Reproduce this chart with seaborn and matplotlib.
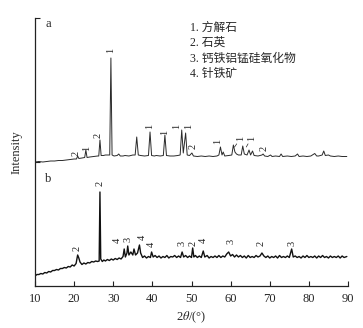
import matplotlib
matplotlib.use("Agg")
import matplotlib.pyplot as plt
import seaborn as sns
import pandas as pd

# ---- data ----
a_two_theta = [10.0, 11, 12, 13, 14, 15, 16, 17, 18, 19, 20, 20.6, 20.9, 21.2, 22, 22.7, 23.0, 23.3, 24, 25, 26,
               26.3, 26.6, 26.9, 27.5, 28, 28.5, 29.1, 29.4, 29.7, 30.2, 31, 31.4, 31.8, 32.5, 33, 34, 35, 35.6,
               36.0, 36.4, 37, 38, 39.0, 39.4, 39.8, 40.5, 41, 42, 42.8, 43.2, 43.6, 44.5, 45.5, 46.5, 47.1, 47.5,
               47.9, 48.5, 48.9, 49.5, 50.1, 50.5, 51.5, 52.5, 53.5, 54.5, 55.5, 56.5, 57.0, 57.4, 57.8, 58.1,
               58.5, 59.5, 60.3, 60.7, 61.1, 61.5, 62.0, 62.7, 63.1, 63.5, 64.2, 64.7, 65.1, 65.6, 66, 67, 68.0,
               68.3, 68.7, 69.5, 70.2, 70.6, 71.5, 72.5, 72.9, 73.3, 74.5, 75.5, 76.5, 77.1, 77.5, 78.5, 79.5,
               80.5, 81.5, 82, 82.5, 83.4, 83.8, 84.2, 85, 85.5, 86.5, 87.5, 88.5, 89.7]
a_intensity = [124, 124.5, 124, 124.5, 125, 125, 125.5, 125.5, 126, 126.5, 127, 127, 130, 127.5, 128, 128.5, 136,
               128.5, 129, 129.5, 130, 130, 146, 130.5, 130.5, 131, 131, 131, 228, 131, 130, 130.5, 132, 130, 130,
               130.5, 130, 131, 131, 149, 131, 130.5, 130, 130.5, 154, 130.5, 130, 130.5, 130, 130.5, 151, 130.5,
               130, 130, 130.5, 131, 156, 133, 153, 131, 130.5, 133, 130, 129.5, 130, 129.5, 130, 129.5, 130, 131,
               139, 131, 134, 130, 130.5, 131, 141, 134, 132, 131, 131, 140, 132, 131, 136, 131, 135, 130.5, 130,
               131, 132, 130, 129.5, 131, 129.5, 130, 129.5, 132, 129.5, 130, 129.5, 130, 132, 129.5, 130, 129.5,
               130, 132.5, 130, 130, 131, 135, 130.5, 131, 130, 129.5, 130, 129.5, 129.5]

b_two_theta = [10.0, 10.5, 11, 11.5, 12, 12.5, 13, 13.5, 14, 14.5,
               15, 15.5, 16, 16.5, 17, 17.5, 18, 18.5, 19, 19.5,
               20, 20.5, 20.9, 21.2, 21.5, 22, 22.5, 23, 23.5, 24,
               24.5, 25, 25.5, 26, 26.4, 26.6, 26.8, 27.2, 27.6, 28,
               28.5, 29, 29.5, 30, 30.5, 31, 31.5, 32, 32.5, 32.8,
               33.1, 33.5, 33.7, 34, 34.5, 35, 35.3, 35.7, 36.2, 36.7,
               37, 37.5, 38, 38.5, 39, 39.5, 39.8, 40.2, 40.7, 41.2,
               41.7, 42.2, 42.7, 43.2, 43.7, 44.2, 44.7, 45.2, 45.7, 46.2,
               46.7, 47.2, 47.6, 48, 48.5, 49, 49.5, 50, 50.3, 50.6,
               51, 51.5, 52, 52.5, 53, 53.4, 54, 54.5, 55, 55.5,
               56, 56.5, 57, 57.5, 58, 58.5, 59, 59.5, 60, 60.5,
               61, 61.5, 62, 62.5, 63, 63.5, 64, 64.5, 65, 65.5,
               66, 66.5, 67, 67.5, 68, 68.5, 69, 69.5, 70, 70.5,
               71, 71.5, 72, 72.5, 73, 73.5, 74, 74.5, 75, 75.6,
               76, 76.5, 77, 77.5, 78, 78.5, 79, 79.5, 80, 80.5,
               81, 81.5, 82, 82.5, 83, 83.5, 84, 84.5, 85, 85.5,
               86, 86.5, 87, 87.5, 88, 88.5, 89, 89.7]
b_intensity = [10, 11.5, 11.5, 12.5, 12, 13.5, 13, 14.5, 14, 15.5,
               15.5, 16.5, 16, 17.5, 17.5, 18.5, 18, 19.5, 19, 21,
               20, 22.5, 31, 28, 24, 21.5, 23, 22, 23.5, 23,
               24.5, 24, 25, 24.5, 25, 94, 27, 24.5, 26, 25,
               26.5, 25.5, 27, 26, 27.5, 26.5, 28, 27, 29.5, 37,
               29, 33, 40, 31, 34, 31, 37, 31, 33, 41,
               33, 28.5, 30, 28, 29.5, 28.5, 34, 29, 30.5, 28.5,
               30, 28, 29.5, 28.5, 30.5, 28, 29.5, 29, 30.5, 28.5,
               30, 28.5, 34, 29, 30.5, 28.5, 30, 28.5, 38, 29,
               30.5, 28.5, 30, 28.5, 35, 29, 30.5, 28, 29.5, 28.5,
               30, 28.5, 30.5, 28.5, 30, 29, 32, 34, 30, 31.5,
               29, 31, 29, 30.5, 28.5, 30, 28, 30.5, 28.5, 29.5,
               28.5, 30.5, 29, 30, 33, 30, 28.5, 30, 28, 29.5,
               28.5, 30, 28, 30.5, 28.5, 29.5, 28.5, 30, 28.5, 37,
               29, 30, 28.5, 29.5, 28, 30, 28.5, 30.5, 28.5, 29.5,
               28.5, 30, 28, 30, 28.5, 30.5, 28.5, 29.5, 28, 30,
               28.5, 29.5, 28.5, 30, 28, 30, 28.5, 29.5]

# peak labels
a_label_text = ["2", "1", "2", "1", "1", "1", "1", "1", "2", "1", "2"]
a_label_x = [20.5, 23.2, 26.2, 29.4, 39.2, 43.1, 46.2, 49.3, 50.4, 56.7, 68.5]
a_label_y = [133, 138, 151, 236, 160, 154, 160, 160, 140, 145, 138]
# labels joined to their peak by a short leader line
a_lead_text = ["1", "1"]
a_lead_peak_x = [61.0, 64.0]
a_lead_peak_y = [139, 139]
a_lead_label_x = [62.6, 65.3]
a_lead_label_y = [148, 148]

b_label_text = ["2", "2", "4", "3", "4", "4", "3", "2", "4", "3", "2", "3"]
b_label_x = [20.8, 26.6, 30.9, 33.7, 37.3, 39.8, 47.5, 50.3, 52.9, 60.2, 67.9, 75.6]
b_label_y = [38, 103, 46, 47, 49, 42, 43, 43, 46, 45, 43, 43]

legend_lines = ["1. 方解石", "2. 石英", "3. 钙铁铝锰硅氧化物", "4. 针铁矿"]
x_ticks = [10, 20, 30, 40, 50, 60, 70, 80, 90]

# ---- style ----
sns.set_style("ticks")
plt.rcParams["font.family"] = ["Liberation Serif", "Noto Sans CJK SC"]
plt.rcParams["mathtext.fontset"] = "stix"

fig = plt.figure(figsize=(3.63, 3.28), dpi=100)
ax = fig.add_axes([35 / 363, 1 - 286 / 328, 313 / 363, 268 / 328])

df_a = pd.DataFrame({"two_theta": a_two_theta, "intensity": a_intensity})
df_b = pd.DataFrame({"two_theta": b_two_theta, "intensity": b_intensity})
sns.lineplot(data=df_a, x="two_theta", y="intensity", ax=ax, color="#2a2a2a", lw=0.7, estimator=None)
sns.lineplot(data=df_b, x="two_theta", y="intensity", ax=ax, color="#111111", lw=1.0, estimator=None)

ax.set_xlim(10, 90)
ax.set_ylim(0, 268)
sns.despine(ax=ax)
for s in ("left", "bottom"):
    ax.spines[s].set_linewidth(0.9)
    ax.spines[s].set_color("#222222")

ax.set_xticks(x_ticks)
ax.set_xticklabels([str(t) for t in x_ticks], fontsize=9)
ax.set_yticks([124, 268])
ax.set_yticklabels([])
ax.tick_params(axis="both", direction="in", length=3.5, width=0.8, color="#222222", pad=5)

ax.set_xlabel(r"2$\it{\theta}$/(°)", fontsize=9, labelpad=3)
ax.set_ylabel("Intensity", fontsize=9, labelpad=4)

lab_kw = dict(rotation=90, ha="center", va="center", fontsize=7.5, color="#222222")
for t, x, y in zip(a_label_text, a_label_x, a_label_y):
    ax.text(x, y, t, **lab_kw)
for t, px, py, lx, ly in zip(a_lead_text, a_lead_peak_x, a_lead_peak_y, a_lead_label_x, a_lead_label_y):
    ax.annotate(t, xy=(px, py), xytext=(lx, ly), arrowprops=dict(arrowstyle="-", lw=0.5, color="#222222",
                shrinkA=0, shrinkB=0), **lab_kw)
for t, x, y in zip(b_label_text, b_label_x, b_label_y):
    ax.text(x, y, t, **lab_kw)

ax.text(13.3, 262, "a", fontsize=9, ha="center", va="center")
ax.text(13.3, 107, "b", fontsize=9, ha="center", va="center")

for i, line in enumerate(legend_lines):
    ax.text(0.495, 0.963 - i * 0.057, line, transform=ax.transAxes, fontsize=8.5, ha="left", va="center")

fig.savefig("out.png", dpi=100)
